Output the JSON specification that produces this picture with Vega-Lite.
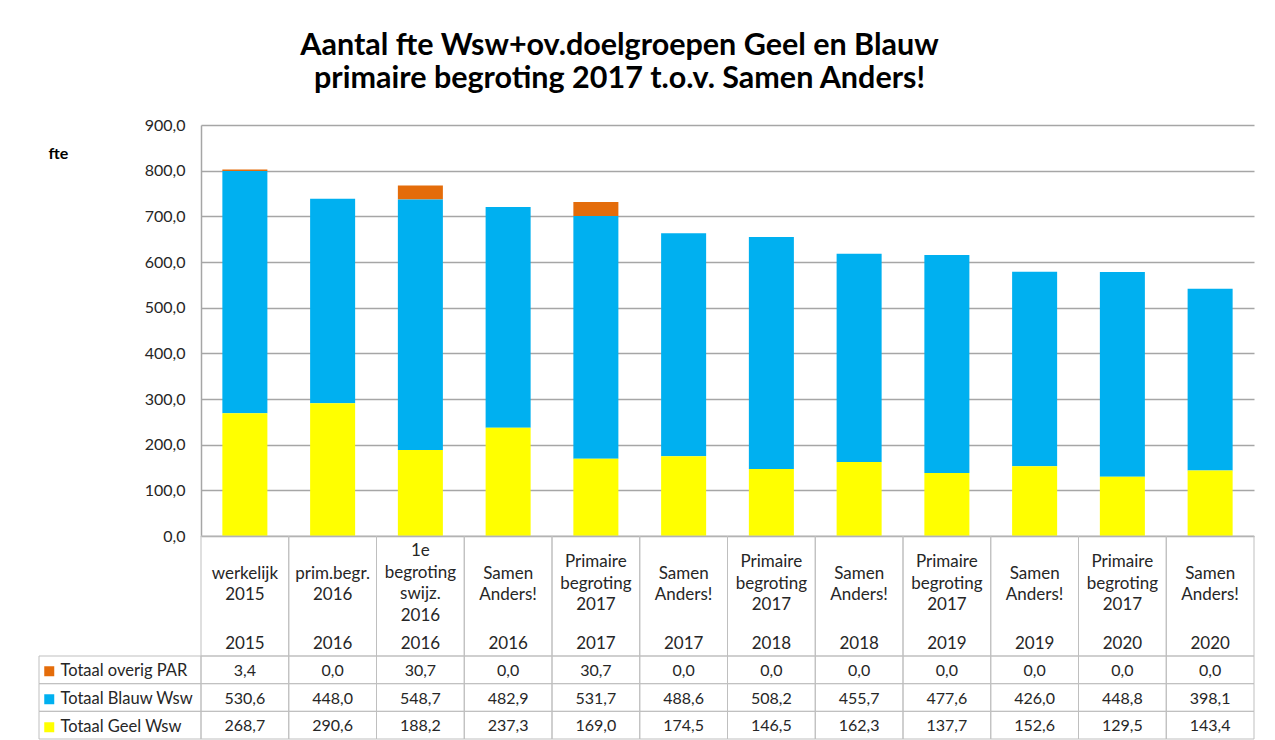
{
  "$schema": "https://vega.github.io/schema/vega-lite/v6.json",
  "width": 1053,
  "height": 614,
  "autosize": {"type": "none"},
  "padding": {"left": 201, "top": 125, "right": 21, "bottom": 1},
  "background": "white",
  "config": {
    "locale": {"number": {"decimal": ",", "thousands": ".", "grouping": [3], "currency": ["€ ", ""]}},
    "font": "Lato",
    "view": {"stroke": null}
  },
  "title": {
    "text": ["Aantal fte Wsw+ov.doelgroepen Geel en Blauw", "primaire begroting 2017 t.o.v. Samen Anders!"],
    "font": "Lato", "fontSize": 30.5, "fontWeight": "bold", "color": "black",
    "anchor": "middle", "frame": "group", "dx": -108, "lineHeight": 33, "offset": 23
  },
  "data": {"values": [
    {"kol": "01", "omschrijving": "werkelijk\n2015", "jaar": "2015", "reeks": "Totaal overig PAR", "stapel": 3, "fte": 3.4},
    {"kol": "01", "omschrijving": "werkelijk\n2015", "jaar": "2015", "reeks": "Totaal Blauw Wsw", "stapel": 2, "fte": 530.6},
    {"kol": "01", "omschrijving": "werkelijk\n2015", "jaar": "2015", "reeks": "Totaal Geel Wsw", "stapel": 1, "fte": 268.7},
    {"kol": "02", "omschrijving": "prim.begr.\n2016", "jaar": "2016", "reeks": "Totaal overig PAR", "stapel": 3, "fte": 0.0},
    {"kol": "02", "omschrijving": "prim.begr.\n2016", "jaar": "2016", "reeks": "Totaal Blauw Wsw", "stapel": 2, "fte": 448.0},
    {"kol": "02", "omschrijving": "prim.begr.\n2016", "jaar": "2016", "reeks": "Totaal Geel Wsw", "stapel": 1, "fte": 290.6},
    {"kol": "03", "omschrijving": "1e\nbegroting\nswijz.\n2016", "jaar": "2016", "reeks": "Totaal overig PAR", "stapel": 3, "fte": 30.7},
    {"kol": "03", "omschrijving": "1e\nbegroting\nswijz.\n2016", "jaar": "2016", "reeks": "Totaal Blauw Wsw", "stapel": 2, "fte": 548.7},
    {"kol": "03", "omschrijving": "1e\nbegroting\nswijz.\n2016", "jaar": "2016", "reeks": "Totaal Geel Wsw", "stapel": 1, "fte": 188.2},
    {"kol": "04", "omschrijving": "Samen\nAnders!", "jaar": "2016", "reeks": "Totaal overig PAR", "stapel": 3, "fte": 0.0},
    {"kol": "04", "omschrijving": "Samen\nAnders!", "jaar": "2016", "reeks": "Totaal Blauw Wsw", "stapel": 2, "fte": 482.9},
    {"kol": "04", "omschrijving": "Samen\nAnders!", "jaar": "2016", "reeks": "Totaal Geel Wsw", "stapel": 1, "fte": 237.3},
    {"kol": "05", "omschrijving": "Primaire\nbegroting\n2017", "jaar": "2017", "reeks": "Totaal overig PAR", "stapel": 3, "fte": 30.7},
    {"kol": "05", "omschrijving": "Primaire\nbegroting\n2017", "jaar": "2017", "reeks": "Totaal Blauw Wsw", "stapel": 2, "fte": 531.7},
    {"kol": "05", "omschrijving": "Primaire\nbegroting\n2017", "jaar": "2017", "reeks": "Totaal Geel Wsw", "stapel": 1, "fte": 169.0},
    {"kol": "06", "omschrijving": "Samen\nAnders!", "jaar": "2017", "reeks": "Totaal overig PAR", "stapel": 3, "fte": 0.0},
    {"kol": "06", "omschrijving": "Samen\nAnders!", "jaar": "2017", "reeks": "Totaal Blauw Wsw", "stapel": 2, "fte": 488.6},
    {"kol": "06", "omschrijving": "Samen\nAnders!", "jaar": "2017", "reeks": "Totaal Geel Wsw", "stapel": 1, "fte": 174.5},
    {"kol": "07", "omschrijving": "Primaire\nbegroting\n2017", "jaar": "2018", "reeks": "Totaal overig PAR", "stapel": 3, "fte": 0.0},
    {"kol": "07", "omschrijving": "Primaire\nbegroting\n2017", "jaar": "2018", "reeks": "Totaal Blauw Wsw", "stapel": 2, "fte": 508.2},
    {"kol": "07", "omschrijving": "Primaire\nbegroting\n2017", "jaar": "2018", "reeks": "Totaal Geel Wsw", "stapel": 1, "fte": 146.5},
    {"kol": "08", "omschrijving": "Samen\nAnders!", "jaar": "2018", "reeks": "Totaal overig PAR", "stapel": 3, "fte": 0.0},
    {"kol": "08", "omschrijving": "Samen\nAnders!", "jaar": "2018", "reeks": "Totaal Blauw Wsw", "stapel": 2, "fte": 455.7},
    {"kol": "08", "omschrijving": "Samen\nAnders!", "jaar": "2018", "reeks": "Totaal Geel Wsw", "stapel": 1, "fte": 162.3},
    {"kol": "09", "omschrijving": "Primaire\nbegroting\n2017", "jaar": "2019", "reeks": "Totaal overig PAR", "stapel": 3, "fte": 0.0},
    {"kol": "09", "omschrijving": "Primaire\nbegroting\n2017", "jaar": "2019", "reeks": "Totaal Blauw Wsw", "stapel": 2, "fte": 477.6},
    {"kol": "09", "omschrijving": "Primaire\nbegroting\n2017", "jaar": "2019", "reeks": "Totaal Geel Wsw", "stapel": 1, "fte": 137.7},
    {"kol": "10", "omschrijving": "Samen\nAnders!", "jaar": "2019", "reeks": "Totaal overig PAR", "stapel": 3, "fte": 0.0},
    {"kol": "10", "omschrijving": "Samen\nAnders!", "jaar": "2019", "reeks": "Totaal Blauw Wsw", "stapel": 2, "fte": 426.0},
    {"kol": "10", "omschrijving": "Samen\nAnders!", "jaar": "2019", "reeks": "Totaal Geel Wsw", "stapel": 1, "fte": 152.6},
    {"kol": "11", "omschrijving": "Primaire\nbegroting\n2017", "jaar": "2020", "reeks": "Totaal overig PAR", "stapel": 3, "fte": 0.0},
    {"kol": "11", "omschrijving": "Primaire\nbegroting\n2017", "jaar": "2020", "reeks": "Totaal Blauw Wsw", "stapel": 2, "fte": 448.8},
    {"kol": "11", "omschrijving": "Primaire\nbegroting\n2017", "jaar": "2020", "reeks": "Totaal Geel Wsw", "stapel": 1, "fte": 129.5},
    {"kol": "12", "omschrijving": "Samen\nAnders!", "jaar": "2020", "reeks": "Totaal overig PAR", "stapel": 3, "fte": 0.0},
    {"kol": "12", "omschrijving": "Samen\nAnders!", "jaar": "2020", "reeks": "Totaal Blauw Wsw", "stapel": 2, "fte": 398.1},
    {"kol": "12", "omschrijving": "Samen\nAnders!", "jaar": "2020", "reeks": "Totaal Geel Wsw", "stapel": 1, "fte": 143.4}
  ]},
  "layer": [
    {
      "mark": {"type": "bar"},
      "encoding": {
        "x": {"field": "kol", "type": "ordinal", "scale": {"paddingInner": 0.487, "paddingOuter": 0.2435}, "axis": null},
        "y": {
          "field": "fte", "type": "quantitative", "stack": "zero",
          "scale": {"domain": [0, 900], "nice": false, "range": [411, 0]},
          "axis": {
            "values": [0, 100, 200, 300, 400, 500, 600, 700, 800, 900],
            "format": ".1f", "grid": true, "gridColor": "#A6A6A6", "gridWidth": 1.5,
            "domain": true, "domainColor": "#A6A6A6", "domainWidth": 1.5, "ticks": false,
            "labelFontSize": 16, "labelPadding": 16, "labelColor": "#262626", "labelFont": "Lato",
            "title": "fte", "titleAngle": 0, "titleAlign": "center", "titleBaseline": "middle",
            "titleX": -143, "titleY": 28, "titleFontSize": 16, "titleFontWeight": "bold", "titleColor": "black", "titleFont": "Lato"
          }
        },
        "color": {
          "field": "reeks", "type": "nominal",
          "scale": {"domain": ["Totaal overig PAR", "Totaal Blauw Wsw", "Totaal Geel Wsw"], "range": ["#E46C0A", "#00B0F0", "#FFFF00"]},
          "legend": {
            "orient": "none", "legendX": -160, "legendY": 538, "title": null, "padding": 0,
            "symbolType": "square", "symbolSize": 100, "symbolStrokeWidth": 0,
            "labelFontSize": 16.5, "labelColor": "#262626", "labelFont": "Lato", "labelOffset": 3, "rowPadding": 11
          }
        },
        "order": {"field": "stapel", "type": "quantitative"}
      }
    },
    {
      "transform": [{"filter": "datum.stapel === 1"}],
      "mark": {"type": "rect", "fill": "transparent", "stroke": "#BFBFBF", "strokeWidth": 1},
      "encoding": {
        "x": {"field": "kol", "type": "ordinal", "scale": {"paddingInner": 0, "paddingOuter": 0}, "axis": null},
        "y": {"datum": "label", "type": "nominal", "scale": {"domain": ["label"], "range": [411, 531], "paddingInner": 0, "paddingOuter": 0}, "axis": null}
      }
    },
    {
      "transform": [{"filter": "datum.stapel === 1 && length(split(datum.omschrijving, '\\n')) === 2"}],
      "mark": {"type": "text", "fontSize": 17, "lineHeight": 21.7, "lineBreak": "\n", "baseline": "middle", "dy": -22.5, "color": "#262626", "font": "Lato"},
      "encoding": {
        "x": {"field": "kol", "type": "ordinal", "scale": {"domain": ["01","02","03","04","05","06","07","08","09","10","11","12"], "paddingInner": 0, "paddingOuter": 0}, "axis": null},
        "y": {"datum": "label", "type": "nominal", "scale": {"domain": ["label"], "range": [411, 531], "paddingInner": 0, "paddingOuter": 0}, "axis": null},
        "text": {"field": "omschrijving"}
      }
    },
    {
      "transform": [{"filter": "datum.stapel === 1 && length(split(datum.omschrijving, '\\n')) === 3"}],
      "mark": {"type": "text", "fontSize": 17, "lineHeight": 21.7, "lineBreak": "\n", "baseline": "middle", "dy": -34, "color": "#262626", "font": "Lato"},
      "encoding": {
        "x": {"field": "kol", "type": "ordinal", "scale": {"domain": ["01","02","03","04","05","06","07","08","09","10","11","12"], "paddingInner": 0, "paddingOuter": 0}, "axis": null},
        "y": {"datum": "label", "type": "nominal", "scale": {"domain": ["label"], "range": [411, 531], "paddingInner": 0, "paddingOuter": 0}, "axis": null},
        "text": {"field": "omschrijving"}
      }
    },
    {
      "transform": [{"filter": "datum.stapel === 1 && length(split(datum.omschrijving, '\\n')) === 4"}],
      "mark": {"type": "text", "fontSize": 17, "lineHeight": 21.7, "lineBreak": "\n", "baseline": "middle", "dy": -45, "color": "#262626", "font": "Lato"},
      "encoding": {
        "x": {"field": "kol", "type": "ordinal", "scale": {"domain": ["01","02","03","04","05","06","07","08","09","10","11","12"], "paddingInner": 0, "paddingOuter": 0}, "axis": null},
        "y": {"datum": "label", "type": "nominal", "scale": {"domain": ["label"], "range": [411, 531], "paddingInner": 0, "paddingOuter": 0}, "axis": null},
        "text": {"field": "omschrijving"}
      }
    },
    {
      "transform": [{"filter": "datum.stapel === 1"}],
      "mark": {"type": "text", "fontSize": 17, "baseline": "middle", "dy": 48, "color": "#262626", "font": "Lato"},
      "encoding": {
        "x": {"field": "kol", "type": "ordinal", "scale": {"paddingInner": 0, "paddingOuter": 0}, "axis": null},
        "y": {"datum": "label", "type": "nominal", "scale": {"domain": ["label"], "range": [411, 531], "paddingInner": 0, "paddingOuter": 0}, "axis": null},
        "text": {"field": "jaar"}
      }
    },
    {
      "mark": {"type": "rect", "fill": "transparent", "stroke": "#BFBFBF", "strokeWidth": 1},
      "encoding": {
        "x": {"field": "kol", "type": "ordinal", "scale": {"paddingInner": 0, "paddingOuter": 0}, "axis": null},
        "y": {"field": "reeks", "type": "nominal", "scale": {"domain": ["Totaal overig PAR", "Totaal Blauw Wsw", "Totaal Geel Wsw"], "range": [531, 614], "paddingInner": 0, "paddingOuter": 0}, "axis": null}
      }
    },
    {
      "mark": {"type": "text", "fontSize": 16, "baseline": "middle", "dy": 1, "color": "#262626", "font": "Lato"},
      "encoding": {
        "x": {"field": "kol", "type": "ordinal", "scale": {"paddingInner": 0, "paddingOuter": 0}, "axis": null},
        "y": {"field": "reeks", "type": "nominal", "scale": {"domain": ["Totaal overig PAR", "Totaal Blauw Wsw", "Totaal Geel Wsw"], "range": [531, 614], "paddingInner": 0, "paddingOuter": 0}, "axis": null},
        "text": {"field": "fte", "type": "quantitative", "format": ".1f"}
      }
    },
    {
      "transform": [{"filter": "datum.kol === '01'"}],
      "mark": {"type": "rect", "fill": "transparent", "stroke": "#BFBFBF", "strokeWidth": 1},
      "encoding": {
        "x": {"datum": "legenda", "type": "nominal", "scale": {"domain": ["legenda"], "range": [-162, 0], "paddingInner": 0, "paddingOuter": 0}, "axis": null},
        "y": {"field": "reeks", "type": "nominal", "scale": {"domain": ["Totaal overig PAR", "Totaal Blauw Wsw", "Totaal Geel Wsw"], "range": [531, 614], "paddingInner": 0, "paddingOuter": 0}, "axis": null}
      }
    }
  ],
  "resolve": {"scale": {"x": "independent", "y": "independent", "color": "shared"}, "axis": {"x": "independent", "y": "independent"}}
}
